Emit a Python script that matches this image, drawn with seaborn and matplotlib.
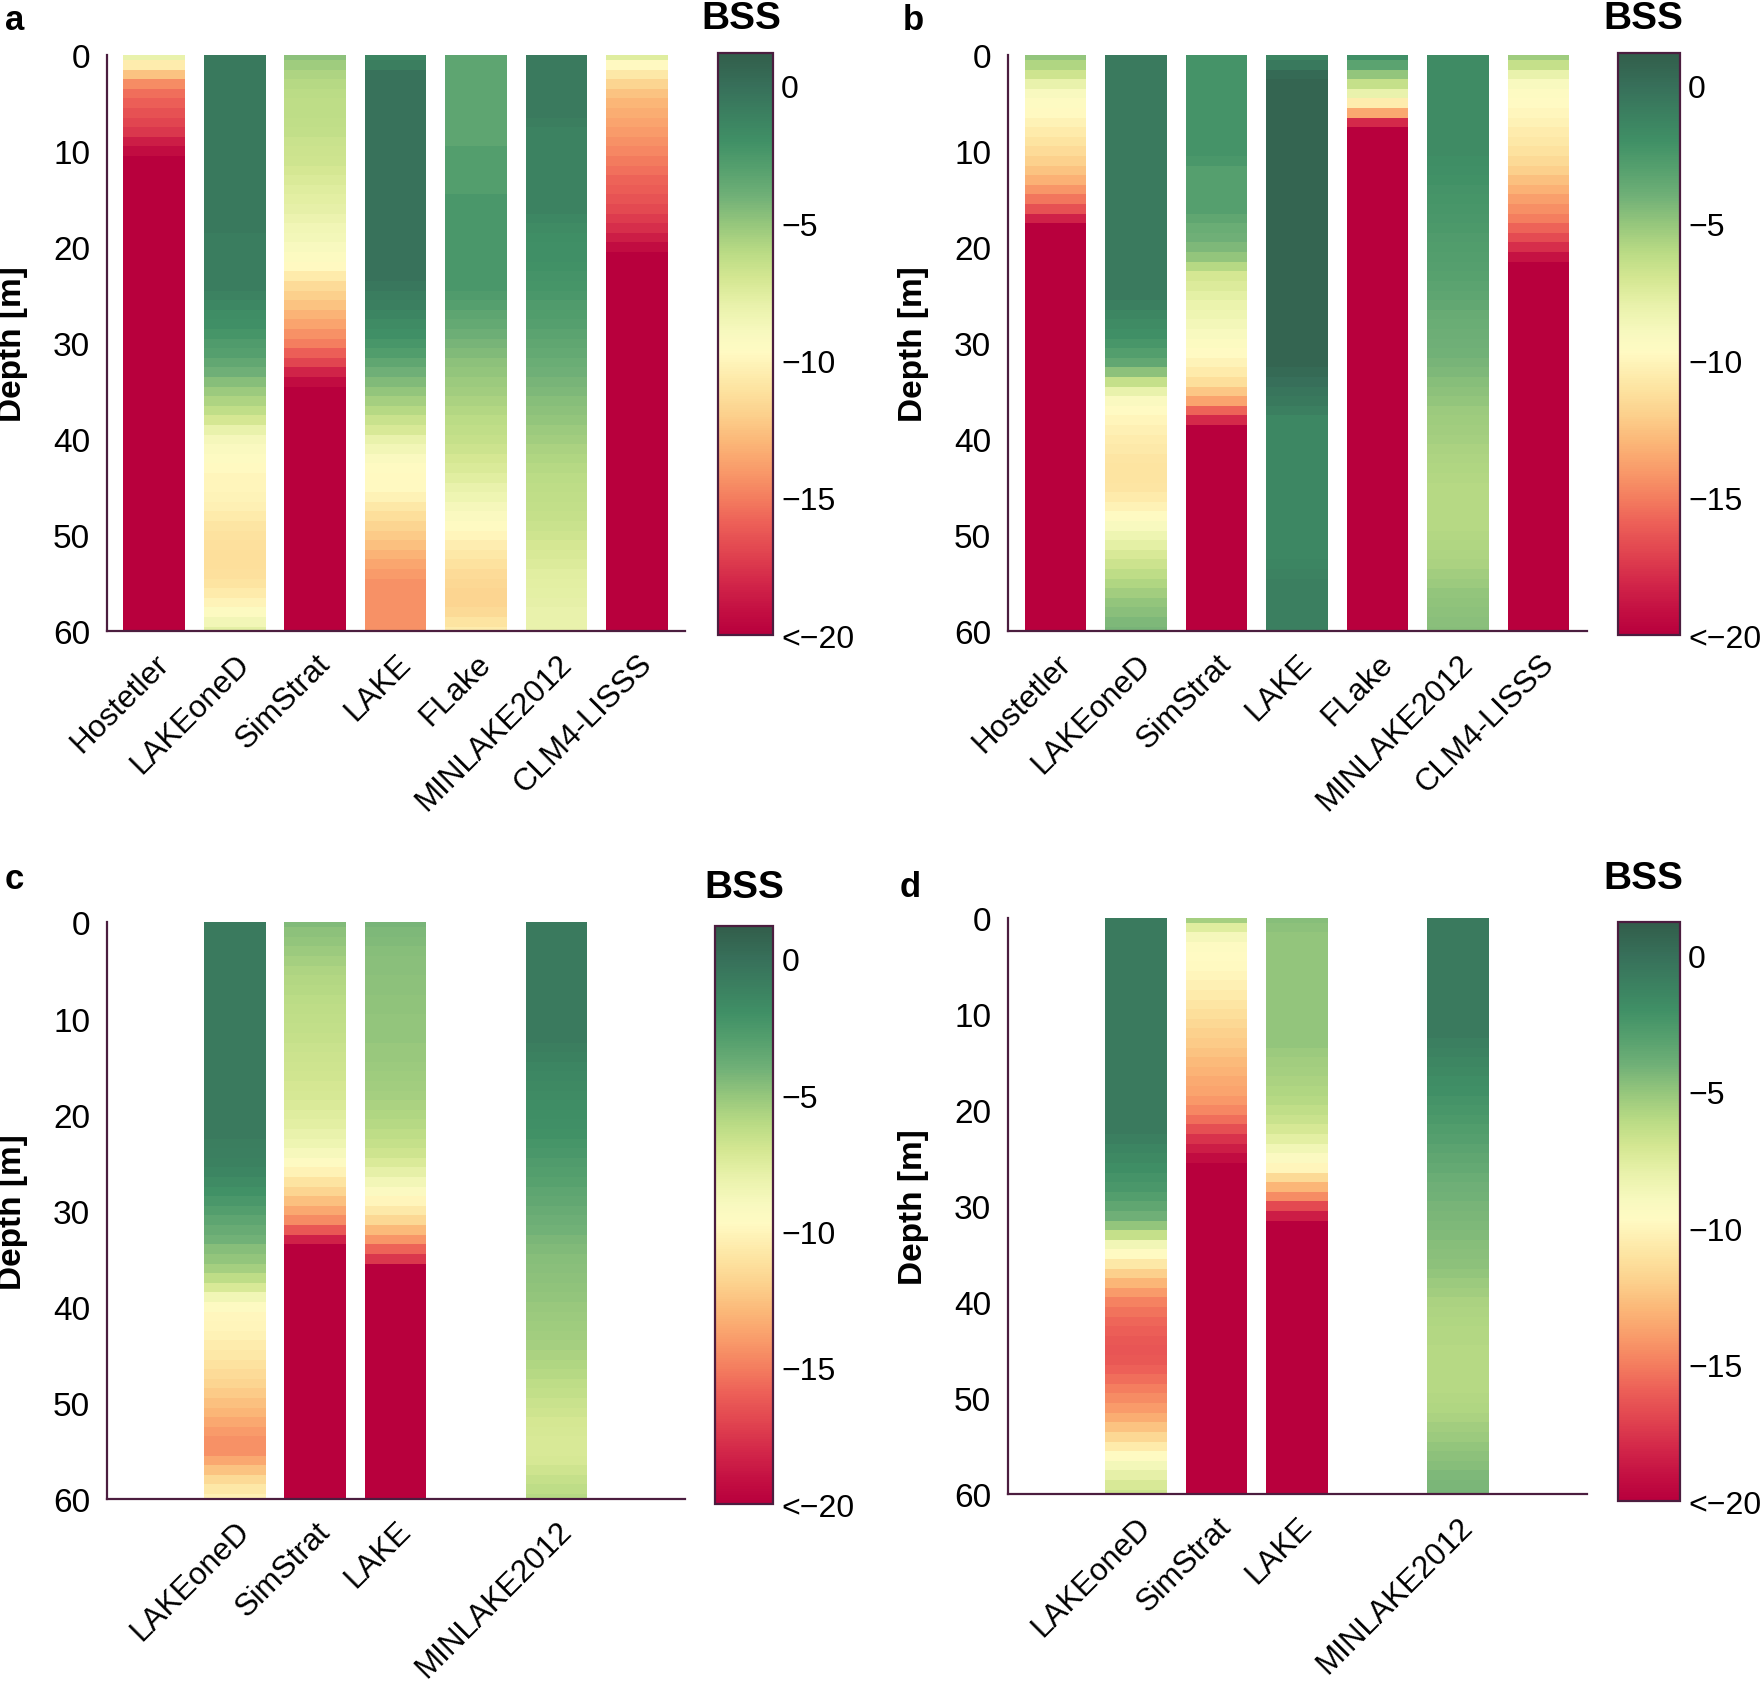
import numpy as np
import matplotlib
matplotlib.use("Agg")
import matplotlib.pyplot as plt
from matplotlib.colors import LinearSegmentedColormap
from matplotlib.transforms import ScaledTranslation
import seaborn as sns

# --- data: BSS profiles, one value per metre of depth (0..60 m) ---
MODELS = ["Hostetler", "LAKEoneD", "SimStrat", "LAKE", "FLake", "MINLAKE2012", "CLM4-LISSS"]
DEPTH = list(range(0, 61))

A_HOSTETLER = [-8.0, -10.5, -12.5, -14.5, -15.5, -16.0, -16.5, -17.0, -17.5, -18.5, -19.3] + [-20.0] * 50
A_LAKEONED = [-0.6] * 19 + [-0.8] * 6 + [
    -1.2, -1.5, -1.8, -2.0, -2.3, -2.7, -3.0, -3.5, -4.0, -4.6, -5.2, -5.7, -6.3, -7.0, -8.0, -8.8, -9.2, -9.5,
    -9.8, -10.0, -10.0, -10.1, -10.3, -10.6, -10.9, -11.1, -11.2, -11.3, -11.3, -11.2, -11.0, -10.6, -10.1,
    -9.4, -8.6, -7.8]
A_SIMSTRAT = [
    -4.8, -5.3, -5.7, -6.0, -6.1, -6.2, -6.2, -6.3, -6.4, -6.6, -6.7, -6.8, -7.0, -7.3, -7.5, -7.7, -7.9, -8.2,
    -8.5, -8.7, -9.0, -9.4, -9.8, -10.6, -11.4, -12.0, -12.5, -13.1, -13.7, -14.3, -15.0, -16.0, -17.0, -18.2,
    -19.3] + [-20.0] * 26
A_LAKE = [-1.3, -0.9] + [-0.2] * 22 + [
    -0.5, -0.8, -1.0, -1.3, -1.7, -2.0, -2.4, -2.8, -3.4, -4.0, -4.5, -5.0, -5.5, -6.0, -6.6, -7.2, -8.0, -8.6,
    -9.2, -9.6, -9.8, -9.8, -10.2, -10.8, -11.3, -11.8, -12.2, -12.6, -13.1, -13.6, -14.0] + [-14.3] * 6
A_FLAKE = [-3.3] * 10 + [-2.9] * 5 + [-2.5] * 10 + [
    -2.7, -3.0, -3.3, -3.6, -3.9, -4.2, -4.5, -4.8, -5.0, -5.2, -5.4, -5.6, -5.9, -6.1, -6.3, -6.5, -6.7, -7.0,
    -7.3, -7.6, -8.0, -8.4, -8.8, -9.2, -9.6, -10.0, -10.4, -10.8, -11.1, -11.4, -11.6, -11.8, -11.8, -11.5,
    -11.0, -10.5]
A_MINLAKE = [-0.7] * 7 + [-0.9] + [-1.2] * 9 + [
    -1.5, -1.7, -1.9, -2.0, -2.0, -2.1, -2.2, -2.3, -2.5, -2.7, -2.8, -3.0, -3.2, -3.4, -3.6, -3.8, -4.0, -4.2,
    -4.4, -4.6, -4.8, -5.0, -5.2, -5.4, -5.6, -5.8, -6.0, -6.1, -6.2, -6.3, -6.4, -6.5, -6.6, -6.8, -7.0, -7.2,
    -7.4, -7.6, -7.7, -7.8, -7.9, -8.0, -8.0, -8.0]
A_CLM4 = [
    -7.5, -9.8, -10.8, -11.8, -12.5, -13.0, -13.3, -13.7, -14.0, -14.3, -14.7, -15.1, -15.4, -15.8, -16.1,
    -16.4, -16.8, -17.3, -17.8, -18.5, -19.3] + [-20.0] * 40

B_HOSTETLER = [
    -5.0, -5.8, -6.8, -8.0, -9.0, -9.5, -9.8, -10.2, -10.6, -11.0, -11.4, -11.9, -12.5, -13.2, -14.2, -15.2,
    -16.5, -18.3] + [-20.0] * 43
B_LAKEONED = [-0.7] * 26 + [
    -1.0, -1.4, -1.7, -2.0, -2.4, -2.9, -3.5, -4.8, -6.5, -8.0, -9.2, -9.7, -10.0, -10.3, -10.5, -10.7, -10.9,
    -11.0, -11.0, -10.9, -10.6, -10.2, -9.6, -9.0, -8.4, -7.8, -7.2, -6.7, -6.2, -5.8, -5.4, -5.0, -4.7, -4.4,
    -4.2]
B_SIMSTRAT = [-2.2] * 11 + [-2.5] + [-3.0] * 5 + [
    -3.4, -3.8, -4.0, -4.4, -5.0, -6.0, -7.0, -7.4, -7.8, -8.1, -8.4, -8.7, -9.0, -9.4, -9.7, -10.1, -10.6,
    -11.3, -12.3, -13.7, -15.8, -18.0] + [-20.0] * 22
B_LAKE = [-1.3, -0.6, 0.3] + [0.7] * 30 + [0.3, 0.0, -0.3, -0.6, -1.0] + [-1.5] * 15 + [-1.3, -1.2] + [-1.0] * 6
B_FLAKE = [-2.0, -3.2, -5.0, -6.5, -8.0, -10.5, -13.5, -18.0] + [-20.0] * 53
B_MINLAKE = [-1.7] * 11 + [
    -1.9, -2.0, -2.1, -2.2, -2.3, -2.4, -2.5, -2.6, -2.7, -2.8, -2.9, -3.0, -3.1, -3.2, -3.3, -3.5, -3.7, -3.8,
    -3.9, -4.0, -4.1, -4.2, -4.4, -4.6, -4.8, -5.0, -5.2, -5.3, -5.4, -5.5, -5.6, -5.7, -5.8, -5.9, -6.0, -6.0,
    -6.0, -6.0, -6.0, -5.9, -5.8, -5.7, -5.6, -5.4, -5.2, -5.0, -4.9, -4.8, -4.7, -4.6]
B_CLM4 = [
    -5.3, -6.5, -8.0, -9.0, -9.5, -9.7, -9.9, -10.2, -10.5, -10.8, -11.1, -11.5, -12.0, -12.6, -13.2, -13.8,
    -14.4, -15.0, -15.8, -16.7, -17.8, -19.0] + [-20.0] * 39

C_LAKEONED = [-0.7] * 23 + [
    -0.9, -1.0, -1.1, -1.3, -1.7, -2.1, -2.5, -2.9, -3.3, -3.7, -4.1, -4.6, -5.0, -5.5, -6.2, -7.2, -8.5, -9.5,
    -9.9, -10.0, -10.2, -10.5, -10.8, -11.1, -11.4, -11.8, -12.2, -12.6, -13.0, -13.5, -14.0, -14.3, -14.3,
    -13.5, -12.5, -11.5, -10.8, -10.3]
C_SIMSTRAT = [
    -4.5, -4.8, -5.0, -5.2, -5.5, -5.7, -5.9, -6.0, -6.1, -6.2, -6.3, -6.4, -6.5, -6.6, -6.7, -6.8, -6.9, -7.0,
    -7.1, -7.3, -7.5, -7.7, -8.0, -8.4, -8.9, -9.5, -10.2, -11.0, -11.8, -12.6, -13.5, -14.5, -16.2,
    -18.3] + [-20.0] * 27
C_LAKE = [
    -4.2, -4.4, -4.5, -4.6, -4.7, -4.7, -4.8, -4.8, -4.9, -4.9, -5.0, -5.0, -5.0, -5.1, -5.1, -5.2, -5.3, -5.4,
    -5.5, -5.6, -5.8, -6.0, -6.2, -6.5, -6.8, -7.3, -7.9, -8.6, -9.3, -10.0, -10.7, -11.6, -12.8, -14.2,
    -15.8, -17.5] + [-20.0] * 25
C_MINLAKE = [-0.7] * 13 + [
    -0.9, -1.1, -1.3, -1.5, -1.6, -1.7, -1.8, -1.9, -2.0, -2.1, -2.3, -2.5, -2.7, -2.9, -3.1, -3.3, -3.5, -3.7,
    -3.9, -4.1, -4.3, -4.5, -4.6, -4.7, -4.8, -4.9, -5.0, -5.1, -5.2, -5.3, -5.4, -5.5, -5.6, -5.8, -6.0, -6.2,
    -6.4, -6.6, -6.8, -7.0, -7.1, -7.2, -7.2, -7.1, -6.8, -6.5, -6.2, -6.0]

D_LAKEONED = [-0.7] * 23 + [
    -1.0, -1.3, -1.6, -1.9, -2.2, -2.5, -2.9, -3.4, -4.0, -5.0, -6.5, -8.5, -9.6, -10.8, -12.0, -13.0, -14.0,
    -14.8, -15.3, -15.7, -16.0, -16.2, -16.3, -16.2, -15.9, -15.5, -15.0, -14.5, -14.0, -13.3, -12.5, -11.6,
    -10.6, -9.6, -8.7, -7.9, -7.2, -6.7]
D_SIMSTRAT = [
    -5.5, -7.5, -8.8, -9.5, -9.7, -9.8, -10.0, -10.3, -10.6, -10.9, -11.3, -11.6, -11.9, -12.2, -12.5, -12.8,
    -13.1, -13.4, -13.7, -14.1, -14.7, -15.5, -16.6, -17.6, -18.5, -19.3] + [-20.0] * 35
D_LAKE = [-4.6, -4.8] + [-5.0] * 12 + [
    -5.2, -5.4, -5.5, -5.6, -5.8, -6.0, -6.3, -6.6, -7.1, -7.7, -8.5, -9.3, -10.0, -11.5, -13.0, -14.5, -16.8,
    -18.5] + [-20.0] * 29
D_MINLAKE = [-0.7] * 13 + [
    -1.0, -1.2, -1.4, -1.6, -1.8, -2.0, -2.2, -2.4, -2.6, -2.8, -3.0, -3.2, -3.4, -3.6, -3.8, -4.0, -4.1, -4.2,
    -4.3, -4.4, -4.5, -4.6, -4.7, -4.8, -5.0, -5.2, -5.4, -5.6, -5.7, -5.8, -5.9, -5.9, -6.0, -6.0, -6.0, -6.0,
    -6.0, -5.9, -5.8, -5.6, -5.4, -5.2, -5.0, -4.8, -4.6, -4.4, -4.3, -4.2]

# colour scale (BSS value -> colour), colourbar ticks
CMAP_BSS = [1.2, 0.0, -1.0, -2.0, -3.0, -4.0, -5.0, -6.0, -7.0, -8.0, -9.0, -9.7, -11.0, -12.0, -13.0,
            -14.0, -15.0, -16.0, -17.0, -18.0, -19.0, -20.0]
CMAP_COLORS = ["#325e4b", "#37705a", "#3b8060", "#409066", "#56a06e", "#70b077", "#95c67c", "#b8da84",
               "#d4e792", "#e9f2ab", "#f8f9bf", "#fffac3", "#fde4a1", "#fcd08c", "#fbb677", "#f99b6a",
               "#f47e5f", "#ec5e57", "#e14550", "#d4294a", "#c51243", "#b8003d"]
CBAR_TICKS = [0, -5, -10, -15, -20]
CBAR_LABELS = ["0", "\u22125", "\u221210", "\u221215", "<\u221220"]
DEPTH_TICKS = [0, 10, 20, 30, 40, 50, 60]

VMIN, VMAX = -20.0, 1.2
K, GAP, BAR = 17, 2, 13   # sub-columns per model slot: gap | bar | gap
SPINE = "#4b1d3f"

for arr in [A_HOSTETLER, A_LAKEONED, A_SIMSTRAT, A_LAKE, A_FLAKE, A_MINLAKE, A_CLM4,
            B_HOSTETLER, B_LAKEONED, B_SIMSTRAT, B_LAKE, B_FLAKE, B_MINLAKE, B_CLM4,
            C_LAKEONED, C_SIMSTRAT, C_LAKE, C_MINLAKE, D_LAKEONED, D_SIMSTRAT, D_LAKE, D_MINLAKE]:
    assert len(arr) == len(DEPTH), len(arr)

sns.set_style("white")
plt.rcParams["font.family"] = ["Liberation Sans", "DejaVu Sans"]
plt.rcParams.update({"text.color": "black", "axes.labelcolor": "black",
                     "xtick.color": "black", "ytick.color": "black"})

cmap = LinearSegmentedColormap.from_list(
    "bss", [((v - VMIN) / (VMAX - VMIN), c) for v, c in zip(CMAP_BSS[::-1], CMAP_COLORS[::-1])])

panels = [
    ("a", [0.0606, 0.6242, 0.3284, 0.3424], [0.4075, 0.622, 0.031, 0.346], (0.0083, 0.988), (0.421, 0.989),
     dict(zip(MODELS, [A_HOSTETLER, A_LAKEONED, A_SIMSTRAT, A_LAKE, A_FLAKE, A_MINLAKE, A_CLM4]))),
    ("b", [0.572, 0.6242, 0.3285, 0.3424], [0.918, 0.622, 0.0354, 0.346], (0.5185, 0.988), (0.9324, 0.989),
     dict(zip(MODELS, [B_HOSTETLER, B_LAKEONED, B_SIMSTRAT, B_LAKE, B_FLAKE, B_MINLAKE, B_CLM4]))),
    ("c", [0.0606, 0.1088, 0.3284, 0.3425], [0.406, 0.1055, 0.0328, 0.3438], (0.0083, 0.4773), (0.4222, 0.4726),
     {"LAKEoneD": C_LAKEONED, "SimStrat": C_SIMSTRAT, "LAKE": C_LAKE, "MINLAKE2012": C_MINLAKE}),
    ("d", [0.572, 0.1115, 0.3285, 0.3425], [0.918, 0.1075, 0.0354, 0.3438], (0.5166, 0.4726), (0.9324, 0.478),
     {"LAKEoneD": D_LAKEONED, "SimStrat": D_SIMSTRAT, "LAKE": D_LAKE, "MINLAKE2012": D_MINLAKE}),
]

fig = plt.figure(figsize=(17.62, 16.83), dpi=100)
label_shift = ScaledTranslation(0.10, 0.08, fig.dpi_scale_trans)

for letter, ax_rect, cax_rect, letter_xy, bss_xy, profiles in panels:
    ax = fig.add_axes(ax_rect)
    cax = fig.add_axes(cax_rect)

    # half-metre rows: the first and last layers are half as thick
    grid = np.full((2 * (len(DEPTH) - 1), len(MODELS) * K), np.nan)
    shown = []
    for i, name in enumerate(MODELS):
        if name not in profiles:
            continue
        col = np.repeat(np.asarray(profiles[name], dtype=float), 2)[1:-1]
        grid[:, i * K + GAP:i * K + GAP + BAR] = col[:, None]
        shown.append(i)

    sns.heatmap(grid, ax=ax, cbar_ax=cax, cmap=cmap, vmin=VMIN, vmax=VMAX,
                xticklabels=False, yticklabels=False, cbar_kws={"ticks": CBAR_TICKS})

    ax.set_xlim(-0.09 * K, 7.1 * K)
    ax.set_ylim(grid.shape[0], 0)
    for side in ["left", "bottom"]:
        ax.spines[side].set_visible(True)
        ax.spines[side].set_color(SPINE)
        ax.spines[side].set_linewidth(1.6)

    ax.set_yticks([2 * d for d in DEPTH_TICKS])
    ax.set_yticklabels([str(d) for d in DEPTH_TICKS], rotation=0, fontsize=24)
    ax.set_xticks([(i + 0.5) * K for i in shown])
    ax.set_xticklabels([MODELS[i] for i in shown], rotation=45, ha="right", va="top",
                       rotation_mode="anchor", fontsize=22.5)
    for lbl in ax.get_xticklabels():
        lbl.set_transform(lbl.get_transform() + label_shift)
    ax.tick_params(axis="y", length=0, pad=12)
    ax.tick_params(axis="x", length=0, pad=12)
    ax.set_ylabel("Depth [m]", fontsize=24, fontweight="bold")
    ax.yaxis.set_label_coords(-0.137, 0.5)

    cb = ax.collections[0].colorbar
    cb.outline.set_visible(True)
    cb.outline.set_linewidth(1.6)
    cb.outline.set_edgecolor(SPINE)
    cax.set_yticks(CBAR_TICKS)
    cax.set_yticklabels(CBAR_LABELS, fontsize=23)
    cax.tick_params(axis="y", direction="in", left=True, right=True, length=6, width=1.4,
                    color=SPINE, pad=6)

    fig.text(letter_xy[0], letter_xy[1], letter, fontsize=25, fontweight="bold", ha="center", va="center")
    fig.text(bss_xy[0], bss_xy[1], "BSS", fontsize=28, fontweight="bold", ha="center", va="center")

fig.savefig("out.png", dpi=100)
